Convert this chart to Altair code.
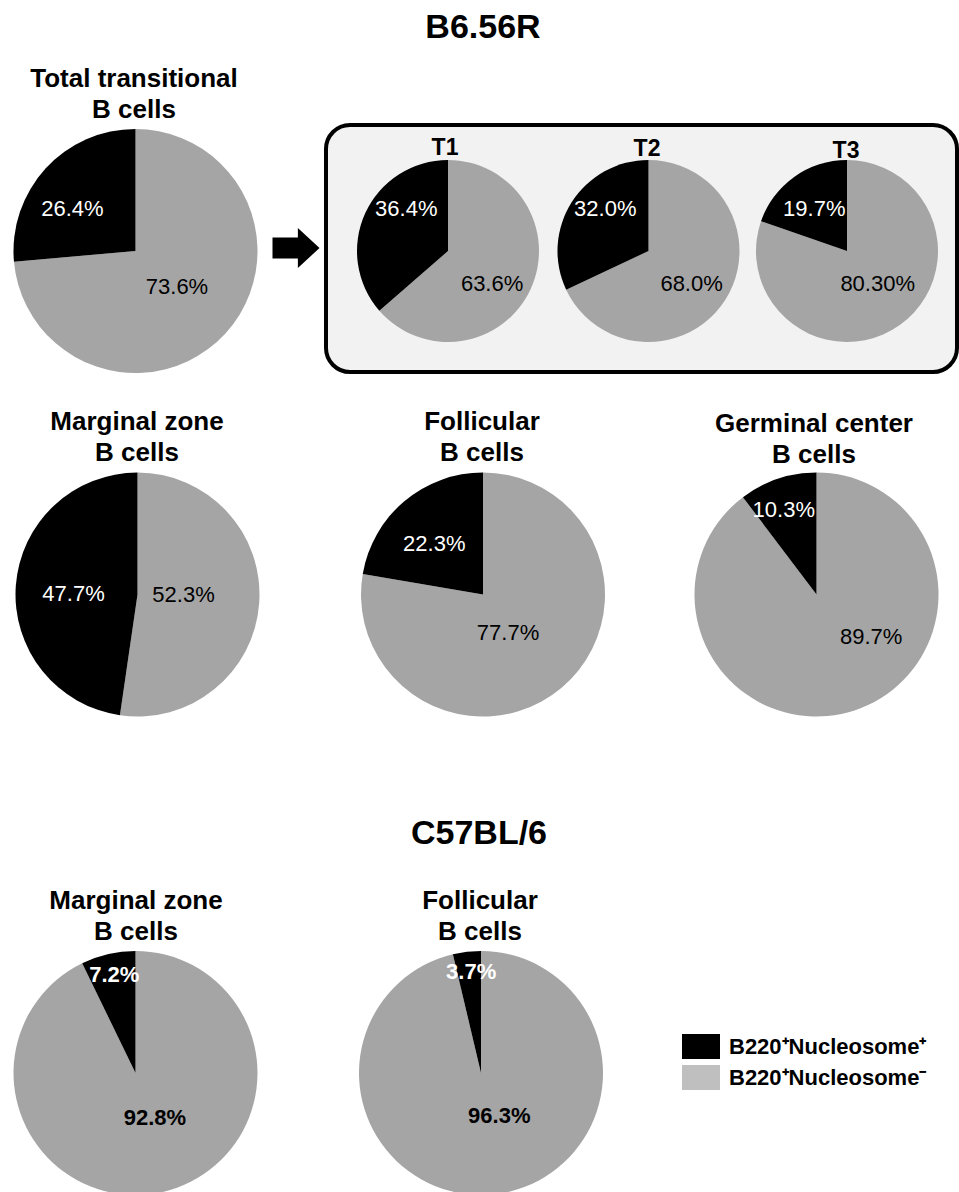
import altair as alt
import pandas as pd

# ---------------- data ----------------
panels = ["B6 Total transitional", "B6 T1", "B6 T2", "B6 T3",
          "B6 Marginal zone", "B6 Follicular", "B6 Germinal center",
          "C57 Marginal zone", "C57 Follicular"]
panel_titles = [["Total transitional", "B cells"], ["T1"], ["T2"], ["T3"],
                ["Marginal zone", "B cells"], ["Follicular", "B cells"],
                ["Germinal center", "B cells"],
                ["Marginal zone", "B cells"], ["Follicular", "B cells"]]
pos_pct = [26.4, 36.4, 32.0, 19.7, 47.7, 22.3, 10.3, 7.2, 3.7]
neg_pct = [73.6, 63.6, 68.0, 80.30, 52.3, 77.7, 89.7, 92.8, 96.3]
pos_labels = ["26.4%", "36.4%", "32.0%", "19.7%", "47.7%", "22.3%", "10.3%", "7.2%", "3.7%"]
neg_labels = ["73.6%", "63.6%", "68.0%", "80.30%", "52.3%", "77.7%", "89.7%", "92.8%", "96.3%"]
slices = ["B220\u207aNucleosome\u207a", "B220\u207aNucleosome\u207b"]
strain_titles = ["B6.56R", "C57BL/6"]

rows = []
for i, p in enumerate(panels):
    rows.append({"panel": p, "slice": slices[1], "order": 0, "value": neg_pct[i], "label": neg_labels[i]})
    rows.append({"panel": p, "slice": slices[0], "order": 1, "value": pos_pct[i], "label": pos_labels[i]})
df = pd.DataFrame(rows)
legend_df = pd.DataFrame({"slice": slices})

# ---------------- layout (pixels) ----------------
FONT = "Liberation Sans"
# center x, center y, radius, title x, title baseline, title size, label bold
layout = {
    "B6 Total transitional": (135.5, 251, 122, 134, 87, 26, False),
    "B6 T1": (448, 251, 91, 445, 155, 23, False),
    "B6 T2": (648.5, 251, 91, 647, 156, 23, False),
    "B6 T3": (847, 251, 91, 846, 158, 23, False),
    "B6 Marginal zone": (137.5, 594.5, 122, 137, 430, 26, False),
    "B6 Follicular": (483, 594.5, 122, 482, 430, 26, False),
    "B6 Germinal center": (816.5, 594.5, 122, 814, 432, 26, False),
    "C57 Marginal zone": (135.5, 1073, 122, 136, 909, 26, True),
    "C57 Follicular": (481, 1073, 122, 480, 909, 26, True),
}
# label placement: (radius, angle offset in % of circle) for [positive, negative]
label_pos = {
    "B6 Total transitional": [(76, -2.4), (55, -0.4)],
    "B6 T1": [(59, 5.7), (55, 3.4)],
    "B6 T2": [(60, 3.2), (54, 1.3)],
    "B6 T3": [(53, -0.75), (45, -2.1)],
    "B6 Marginal zone": [(64, -1.1), (46, -1.1)],
    "B6 Follicular": [(70, -1.1), (46, 2.0)],
    "B6 Germinal center": [(91, -0.7), (69, -9.4)],
    "C57 Marginal zone": [(100, 0.2), (49, -2.9)],
    "C57 Follicular": [(101, 0.3), (47, -4.5)],
}

theta_scale = alt.Scale(domain=[0, 100])
color_scale = alt.Scale(domain=slices, range=["#000000", "#a5a5a5"])
one = alt.Data(values=[{"k": 0}])

layers = []

# framed box around T1-T3
layers.append(
    alt.Chart(one).mark_rect(cornerRadius=24, fill="#f2f2f2", stroke="#000000", strokeWidth=4)
    .encode(x=alt.value(326), x2=alt.value(957), y=alt.value(125), y2=alt.value(372))
)

# arrow
ARROW = "M-1,-0.45L0.08,-0.45L0.08,-0.85L1,0L0.08,0.85L0.08,0.45L-1,0.45Z"
layers.append(
    alt.Chart(one).mark_point(shape=ARROW, size=2209, filled=True, color="#000000",
                              opacity=1, strokeWidth=0)
    .encode(x=alt.value(296), y=alt.value(248))
)

for i, p in enumerate(panels):
    cx, cy, r, tx, ty, tsize, bold = layout[p]
    base = alt.Chart(df).transform_filter(alt.datum.panel == p)
    layers.append(
        base.mark_arc(radius=r, strokeWidth=0)
        .encode(
            theta=alt.Theta("value:Q", stack=True, scale=theta_scale),
            color=alt.Color("slice:N", scale=color_scale, legend=None),
            order=alt.Order("order:Q", sort="ascending"),
            x=alt.value(cx), y=alt.value(cy),
        )
    )
    for s_idx, s in enumerate(slices):
        rl, off = label_pos[p][s_idx]
        layers.append(
            base.transform_stack(stack="value", groupby=[], as_=["v0", "v1"],
                                 sort=[alt.SortField("order", order="ascending")])
            .transform_calculate(mid=f"(datum.v0 + datum.v1) / 2 + ({off})")
            .transform_filter(alt.datum.slice == s)
            .mark_text(radius=rl, font=FONT, fontSize=22,
                       fontWeight="bold" if bold else "normal",
                       color="#ffffff" if s_idx == 0 else "#000000",
                       align="center", baseline="middle")
            .encode(theta=alt.Theta("mid:Q", scale=theta_scale), text="label:N",
                    x=alt.value(cx), y=alt.value(cy))
        )
    layers.append(
        alt.Chart(one).mark_text(text=panel_titles[i], font=FONT, fontSize=tsize,
                                 fontWeight="bold", align="center", baseline="alphabetic",
                                 lineHeight=31, color="#000000")
        .encode(x=alt.value(tx), y=alt.value(ty))
    )

# strain titles
for t, (tx, ty) in zip(strain_titles, [(483, 38), (479, 844)]):
    layers.append(
        alt.Chart(one).mark_text(text=t, font=FONT, fontSize=34, fontWeight="bold",
                                 align="center", baseline="alphabetic", color="#000000")
        .encode(x=alt.value(tx), y=alt.value(ty))
    )

# legend
RECT = "M-1,-0.66L1,-0.66L1,0.66L-1,0.66Z"
leg_y = alt.Y("slice:N", scale=alt.Scale(domain=slices, range=[1046.5, 1077.5], padding=0), axis=None)
layers.append(
    alt.Chart(legend_df).mark_point(shape=RECT, size=1444, filled=True, opacity=1, strokeWidth=0)
    .encode(x=alt.value(701), y=leg_y,
            fill=alt.Fill("slice:N", scale=alt.Scale(domain=slices, range=["#000000", "#bfbfbf"]),
                          legend=None))
)
layers.append(
    alt.Chart(legend_df).mark_text(font=FONT, fontSize=22, fontWeight="bold", align="left",
                                   baseline="middle", color="#000000")
    .encode(x=alt.value(729), y=leg_y, text="slice:N")
)

chart = alt.layer(*layers).properties(
    width=959, height=1192,
    autosize=alt.AutoSizeParams(type="none"),
    padding=0,
    background="#ffffff",
).configure_view(stroke=None, strokeWidth=0)

chart.save("out.html", embed_options={"renderer": "svg", "actions": False})
